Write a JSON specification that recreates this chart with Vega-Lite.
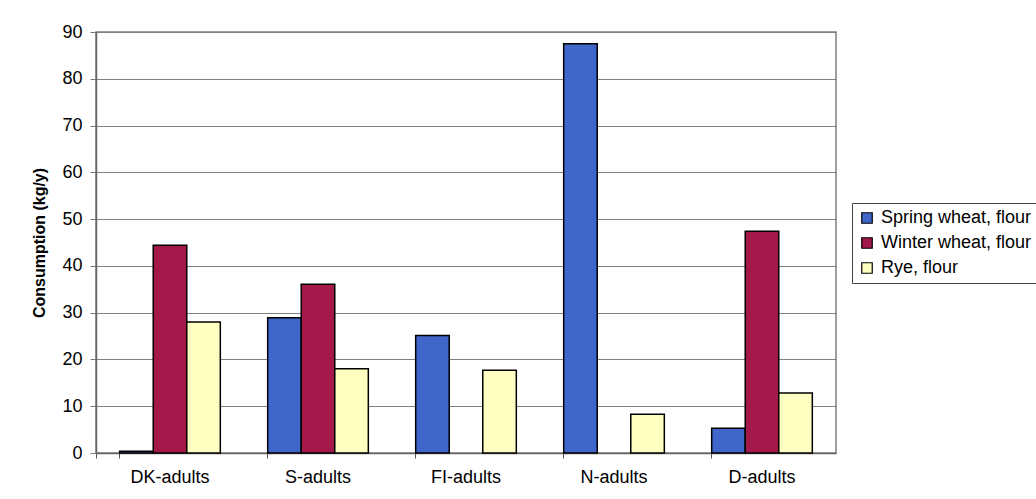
{
  "$schema": "https://vega.github.io/schema/vega-lite/v6.json",
  "autosize": {"type": "none"},
  "width": 740,
  "height": 421,
  "padding": {"left": 96, "top": 32, "right": 200, "bottom": 46},
  "background": "white",
  "data": {
    "values": [
      {"group": "DK-adults", "series": "Spring wheat, flour", "value": 0.4},
      {"group": "DK-adults", "series": "Winter wheat, flour", "value": 44.4},
      {"group": "DK-adults", "series": "Rye, flour", "value": 28.0},
      {"group": "S-adults", "series": "Spring wheat, flour", "value": 28.9},
      {"group": "S-adults", "series": "Winter wheat, flour", "value": 36.1},
      {"group": "S-adults", "series": "Rye, flour", "value": 18.0},
      {"group": "FI-adults", "series": "Spring wheat, flour", "value": 25.1},
      {"group": "FI-adults", "series": "Rye, flour", "value": 17.7},
      {"group": "N-adults", "series": "Spring wheat, flour", "value": 87.5},
      {"group": "N-adults", "series": "Rye, flour", "value": 8.3},
      {"group": "D-adults", "series": "Spring wheat, flour", "value": 5.3},
      {"group": "D-adults", "series": "Winter wheat, flour", "value": 47.4},
      {"group": "D-adults", "series": "Rye, flour", "value": 12.8}
    ]
  },
  "mark": {"type": "bar", "stroke": "black", "strokeWidth": 1.5},
  "encoding": {
    "x": {
      "field": "group",
      "type": "nominal",
      "sort": ["DK-adults", "S-adults", "FI-adults", "N-adults", "D-adults"],
      "scale": {"paddingInner": 0.32, "paddingOuter": 0.16},
      "axis": {
        "title": null,
        "labelAngle": 0,
        "labelFont": "Liberation Sans",
        "labelFontSize": 18,
        "labelColor": "black",
        "labelPadding": 10,
        "bandPosition": 0,
        "tickExtra": true,
        "ticks": true,
        "tickSize": 5,
        "tickColor": "#555",
        "grid": false,
        "domainColor": "#666",
        "domainWidth": 1.5
      }
    },
    "xOffset": {
      "field": "series",
      "type": "nominal",
      "sort": ["Spring wheat, flour", "Winter wheat, flour", "Rye, flour"],
      "scale": {"paddingInner": 0, "paddingOuter": 0, "domain": ["Spring wheat, flour", "Winter wheat, flour", "Rye, flour"]}
    },
    "y": {
      "field": "value",
      "type": "quantitative",
      "scale": {"domain": [0, 90], "nice": false},
      "axis": {
        "title": "Consumption (kg/y)",
        "titleFont": "Liberation Sans",
        "titleFontSize": 16,
        "titleFontWeight": "bold",
        "titleColor": "black",
        "titlePadding": 14,
        "values": [0, 10, 20, 30, 40, 50, 60, 70, 80, 90],
        "labelFont": "Liberation Sans",
        "labelFontSize": 18,
        "labelColor": "black",
        "labelPadding": 8,
        "tickSize": 6,
        "tickColor": "#777",
        "grid": true,
        "gridColor": "#808080",
        "gridWidth": 1.2,
        "domainColor": "#666",
        "domainWidth": 1.5
      }
    },
    "color": {
      "field": "series",
      "type": "nominal",
      "sort": ["Spring wheat, flour", "Winter wheat, flour", "Rye, flour"],
      "scale": {
        "domain": ["Spring wheat, flour", "Winter wheat, flour", "Rye, flour"],
        "range": ["#4166C9", "#A5184A", "#FFFFC2"]
      },
      "legend": {
        "title": null,
        "orient": "none",
        "legendX": 756,
        "legendY": 171,
        "strokeColor": "#444",
        "padding": 6,
        "rowPadding": 7,
        "symbolType": "square",
        "symbolSize": 110,
        "symbolStrokeColor": "black",
        "symbolStrokeWidth": 1.2,
        "symbolOpacity": 1,
        "labelFont": "Liberation Sans",
        "labelFontSize": 18,
        "labelColor": "black",
        "labelOffset": 5,
        "labelLimit": 400
      }
    }
  },
  "config": {
    "view": {"stroke": "#808080", "strokeWidth": 1.5}
  }
}
